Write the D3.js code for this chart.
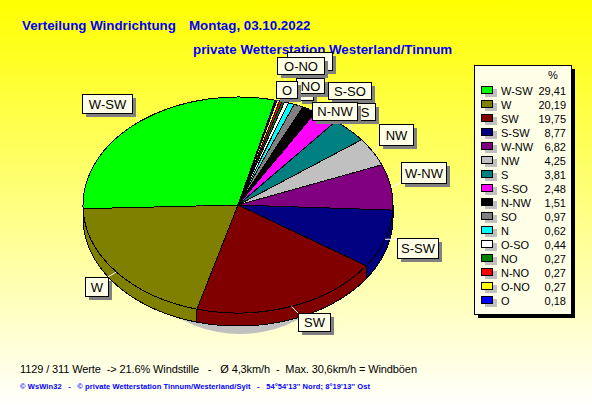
<!DOCTYPE html>
<html><head><meta charset="utf-8">
<script src="https://cdn.jsdelivr.net/npm/d3@7"></script>
<style>html,body{margin:0;padding:0;background:#fff}svg{display:block}text{font-family:"Liberation Sans",Arial,sans-serif}</style>
</head><body><svg id="c" width="592" height="407"></svg>
<script>
const categories=["W-SW","W","SW","S-SW","W-NW","NW","S","S-SO","N-NW","SO","N","O-SO","NO","N-NO","O-NO","O"];
const percentLabels=["29,41","20,19","19,75","8,77","6,82","4,25","3,81","2,48","1,51","0,97","0,62","0,44","0,27","0,27","0,27","0,18"];
const values=[29.41,20.19,19.75,8.77,6.82,4.25,3.81,2.48,1.51,0.97,0.62,0.44,0.27,0.27,0.27,0.18];
const colors=["#00ff00","#808000","#800000","#000080","#800080","#c0c0c0","#008080","#ff00ff","#000000","#808080","#00ffff","#ffffff","#008000","#ff0000","#ffff00","#0000ff"];
// label box: [left, top, right, bottom]
const labelBoxes={"N-NO":[287,52,332,70],"SO":[298,86,313,100],"NO":[296,78,324,93],"S":[354,103,375,120],"S-SO":[328,82,371,99],"N-NW":[312,102,357,120],"O-NO":[277,57,324,74],"O":[276,81,297,98],"NW":[379,124,413,145],"W-NW":[401,162,446,183],"S-SW":[397,238,438,258],"SW":[298,313,330,331],"W":[85,277,108,296],"W-SW":[82,94,132,113]};
const labelOrder=["N-NO","SO","NO","S","S-SO","N-NW","O-NO","O","NW","W-NW","S-SW","SW","W","W-SW"];
const hiddenText=["N-NO","SO"];
const titleLines=[["Verteilung Windrichtung",22,30],["Montag, 03.10.2022",189,30],["private Wetterstation Westerland/Tinnum",193,54]];

const svg=d3.select("#c");
const defs=svg.append("defs");
const g=defs.append("linearGradient").attr("id","bg").attr("x1",0).attr("y1",0).attr("x2",0).attr("y2",1);
g.append("stop").attr("offset",0).attr("stop-color","#ffff00");
g.append("stop").attr("offset",1).attr("stop-color","#ffffff");
svg.append("rect").attr("width",592).attr("height",407).attr("fill","url(#bg)");

svg.selectAll("text.t").data(titleLines).join("text").attr("class","t")
 .attr("x",d=>d[1]).attr("y",d=>d[2]).text(d=>d[0]).attr("fill","#0000ff").attr("font-weight","bold").attr("font-size",13.33);

const cx=238,cy=205,rx=155,ry=108,depth=13;
const sy=ry/rx;
const start=13.9*Math.PI/180;
const pie=d3.pie().sort(null).startAngle(start).endAngle(start-2*Math.PI)(values);
const arc=d3.arc().innerRadius(0).outerRadius(rx);

// shadow
svg.append("ellipse").attr("cx",240).attr("cy",218).attr("rx",120).attr("ry",116).attr("fill","#c0c0c0");

// side wall
const pt=(a,dy)=>[cx+rx*Math.sin(a),cy-ry*Math.cos(a)+dy];
const wall=svg.append("g");
pie.forEach((s,i)=>{
  const lo=Math.min(s.startAngle,s.endAngle),hi=Math.max(s.startAngle,s.endAngle);
  for(const off of [-2*Math.PI,0,2*Math.PI]){
    const a0=Math.max(lo+off,Math.PI/2),a1=Math.min(hi+off,1.5*Math.PI);
    if(a1<=a0) continue;
    const top=d3.range(0,41).map(k=>pt(a0+(a1-a0)*k/40,0));
    const bot=d3.range(0,41).map(k=>pt(a1-(a1-a0)*k/40,depth));
    wall.append("path").attr("d",d3.line()(top.concat(bot))+"Z").attr("fill",colors[i]).attr("stroke","#000").attr("stroke-width",1).attr("shape-rendering","crispEdges");
  }
});

// top face
svg.append("g").attr("transform",`translate(${cx},${cy}) scale(1,${sy})`)
 .selectAll("path").data(pie).join("path").attr("d",arc).attr("fill",(d,i)=>colors[i])
 .attr("stroke","#000").attr("stroke-width",1).attr("vector-effect","non-scaling-stroke").attr("shape-rendering","crispEdges");

// leaders and labels
const idx=Object.fromEntries(categories.map((c,i)=>[c,i]));
const lab=svg.append("g");
labelOrder.forEach(c=>{
  const b=labelBoxes[c],s=pie[idx[c]],m=(s.startAngle+s.endAngle)/2;
  const p=pt(m,0);
  const bx=Math.max(b[0],Math.min(b[2],p[0])),by=Math.max(b[1],Math.min(b[3],p[1]));
  lab.append("line").attr("x1",p[0]).attr("y1",p[1]).attr("x2",bx).attr("y2",by).attr("stroke","#fff");
  lab.append("rect").attr("x",b[0]+4).attr("y",b[1]+4).attr("width",b[2]-b[0]).attr("height",b[3]-b[1]).attr("fill","#808080");
  lab.append("rect").attr("x",b[0]+.5).attr("y",b[1]+.5).attr("width",b[2]-b[0]).attr("height",b[3]-b[1]).attr("fill","#ffffe8").attr("stroke","#000");
  if(!hiddenText.includes(c)) lab.append("text").attr("x",(b[0]+b[2])/2+.5).attr("y",(b[1]+b[3])/2+5).attr("text-anchor","middle").attr("font-size",13).attr("fill","#000").text(c);
});

// legend
const y=d3.scalePoint().domain(categories).range([91,301]);
svg.append("rect").attr("x",478).attr("y",69).attr("width",97).attr("height",249).attr("fill","#000");
svg.append("rect").attr("x",474.5).attr("y",65.5).attr("width",97).attr("height",249).attr("fill","#ffffe8").attr("stroke","#000");
svg.append("text").attr("x",553).attr("y",79).attr("text-anchor","middle").attr("font-size",11).text("%");
const rows=svg.append("g").selectAll("g").data(categories).join("g").attr("transform",d=>`translate(0,${y(d)})`);
rows.append("rect").attr("x",485).attr("y",-2).attr("width",12).attr("height",8).attr("fill","#c0c0c0");
rows.append("rect").attr("x",481.5).attr("y",-4.5).attr("width",11).attr("height",7).attr("fill",(d,i)=>colors[i]).attr("stroke","#000");
rows.append("text").attr("x",501).attr("y",4).attr("font-size",11).text(d=>d);
rows.append("text").attr("x",566).attr("y",4).attr("text-anchor","end").attr("font-size",11).text((d,i)=>percentLabels[i]);

svg.append("text").attr("x",20).attr("y",373).attr("font-size",11).attr("textLength",397).style("white-space","pre").text("1129 / 311 Werte  -> 21.6% Windstille   -   Ø 4,3km/h  -  Max. 30,6km/h = Windböen");
svg.append("text").attr("x",20).attr("y",389).attr("font-size",7.5).attr("font-weight","bold").attr("fill","#0000ff").attr("textLength",350).style("white-space","pre").text("© WsWin32   -   © private Wetterstation Tinnum/Westerland/Sylt   -   54°54'13'' Nord; 8°19'13'' Ost");
</script></body></html>
